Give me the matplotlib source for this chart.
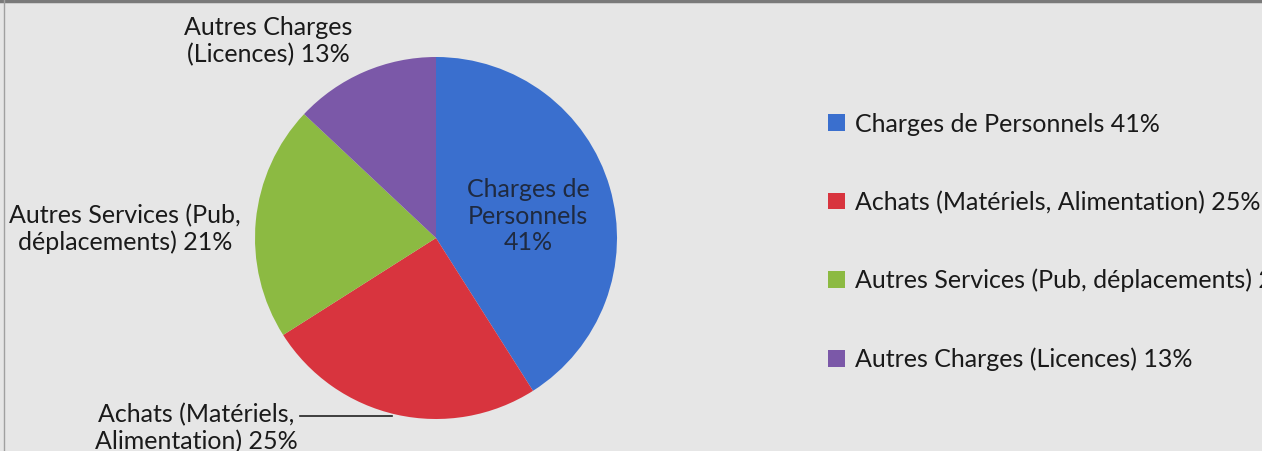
import matplotlib.pyplot as plt
from matplotlib.patches import Patch

# ── data ──
categories = ['Charges de Personnels', 'Achats (Matériels, Alimentation)',
              'Autres Services (Pub, déplacements)', 'Autres Charges (Licences)']
shares = [41, 25, 21, 13]
colors = ['#3a6fce', '#d8343e', '#8cba42', '#7b58a8']

# labels shown around the pie (same wording as the original, line breaks included)
slice_labels = ['Charges de\nPersonnels\n41%',
                'Achats (Matériels,\nAlimentation) 25%',
                'Autres Services (Pub,\ndéplacements) 21%',
                'Autres Charges\n(Licences) 13%']
legend_labels = [f'{c} {s}%' for c, s in zip(categories, shares)]

W, H = 1262, 451
BG = '#e6e6e6'
plt.rcParams['font.family'] = ['Lato', 'DejaVu Sans']

fig = plt.figure(figsize=(W / 100, H / 100), dpi=100, facecolor=BG)
ax = fig.add_axes([0, 0, 1, 1])
ax.set_facecolor(BG)

# pie, drawn in pixel-like data coords (y measured upward)
cx, cy, r = 436, H - 238, 181
ax.pie(shares, colors=colors, startangle=90, counterclock=False,
       center=(cx, cy), radius=r, frame=True,
       wedgeprops=dict(linewidth=0))
ax.set_xlim(0, W)
ax.set_ylim(0, H)
ax.set_aspect('equal')
ax.axis('off')

fs = 18
txt = dict(fontsize=fs, ha='center', va='center', linespacing=1.2)

# slice labels
ax.text(528, H - 216, slice_labels[0], color='#1f2a40', **txt)
ax.text(196, H - 428, slice_labels[1], color='#1a1a1a', **txt)
ax.text(125, H - 229, slice_labels[2], color='#1a1a1a', **txt)
ax.text(268, H - 41, slice_labels[3], color='#1a1a1a', **txt)

# leader line for the "Achats" label
ax.plot([300, 392], [H - 416, H - 416], color='#222222', lw=1.2)

# legend on the right (runs past the right edge, as in the source)
handles = [Patch(facecolor=c, edgecolor='none') for c in colors]
leg = fig.legend(handles, legend_labels, loc='upper left',
                 bbox_to_anchor=(806 / W, 1 - 90 / H), frameon=False,
                 fontsize=fs, handlelength=0.65, handleheight=0.65,
                 handletextpad=0.4, labelspacing=2.2)
for t in leg.get_texts():
    t.set_color('#1a1a1a')

# thin scan border lines (top and left)
ax.plot([0, W], [H - 1, H - 1], color='#7a7a7a', lw=2.5)
ax.plot([4, 4], [0, H], color='#a0a0a0', lw=1)

fig.savefig('out.png', dpi=100, facecolor=BG)
